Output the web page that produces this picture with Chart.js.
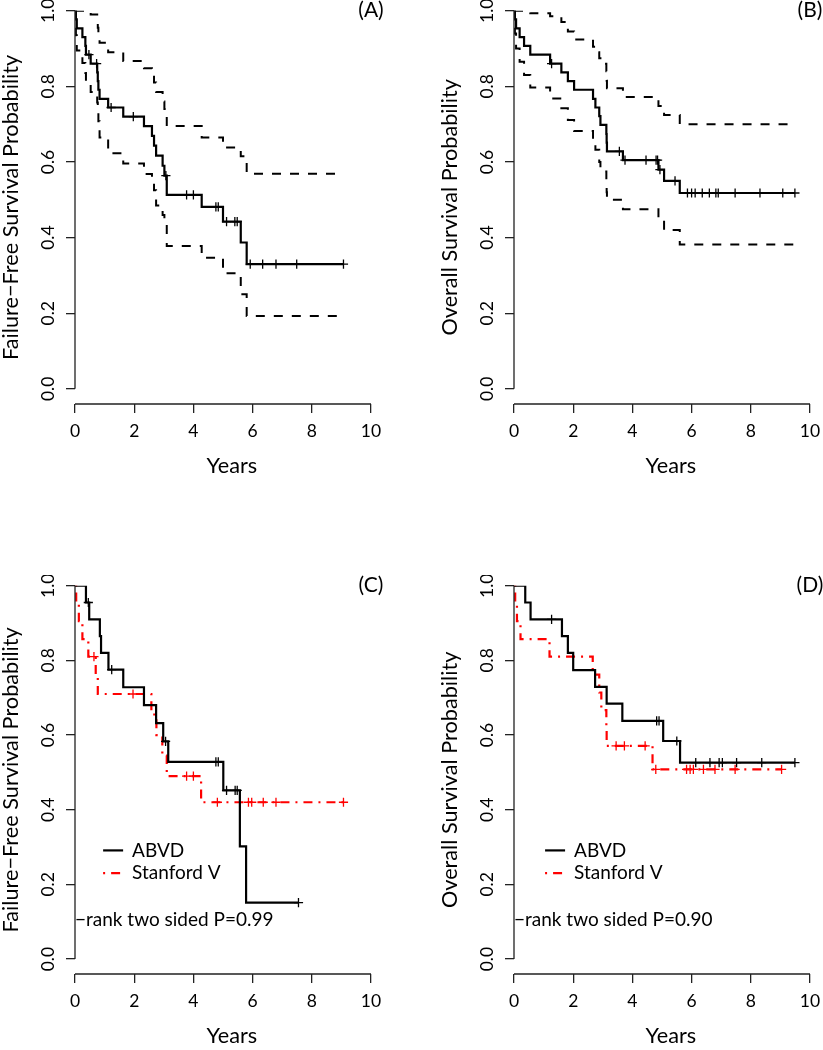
<!DOCTYPE html>
<html>
<head>
<meta charset="utf-8">
<script src="https://cdn.jsdelivr.net/npm/chart.js@4"></script>
<style>
  html, body { margin: 0; padding: 0; background: #fff; }
  #page { position: relative; width: 823px; height: 1050px; overflow: hidden; background: #fff; }
  #page canvas { position: absolute; }
</style>
</head>
<body>
<div id="page">
  <canvas id="panelA" width="420" height="484" style="left:0px;top:0px"></canvas>
  <canvas id="panelB" width="420" height="484" style="left:439px;top:0px"></canvas>
  <canvas id="panelC" width="420" height="479" style="left:0px;top:575px"></canvas>
  <canvas id="panelD" width="420" height="479" style="left:439px;top:575px"></canvas>
</div>
<script>
// ---- axis ticks ----
const xTicks = [0, 2, 4, 6, 8, 10];
const yTicks = [0, 0.2, 0.4, 0.6, 0.8, 1.0];

// ---- (A) failure-free survival, all patients ----
const ffsTime   = [0, 0.03, 0.06, 0.25, 0.35, 0.37, 0.53, 0.75, 0.77, 0.79, 0.83, 1.12, 1.63, 2.33, 2.60, 2.67, 2.74, 2.96, 3.02, 3.10, 4.28, 5.00, 5.60, 5.80];
const ffsSurv   = [1, 0.977, 0.953, 0.930, 0.907, 0.884, 0.860, 0.837, 0.814, 0.791, 0.767, 0.744, 0.720, 0.695, 0.669, 0.643, 0.617, 0.590, 0.564, 0.513, 0.481, 0.442, 0.387, 0.330];
const ffsUpper  = [1, 1, 1, 1, 1, 1, 0.990, 0.975, 0.955, 0.930, 0.915, 0.890, 0.867, 0.848, 0.830, 0.810, 0.785, 0.760, 0.740, 0.695, 0.665, 0.638, 0.615, 0.569];
const ffsLower  = [1, 0.935, 0.895, 0.862, 0.835, 0.808, 0.785, 0.757, 0.733, 0.708, 0.665, 0.623, 0.596, 0.568, 0.550, 0.525, 0.485, 0.460, 0.440, 0.378, 0.347, 0.306, 0.250, 0.193];
const ffsCensor = [0.47, 0.73, 1.22, 1.97, 3.07, 3.77, 4.00, 4.76, 4.84, 5.12, 5.40, 5.48, 5.92, 6.34, 6.79, 7.49, 9.07];

// ---- (B) overall survival, all patients ----
const osTime   = [0, 0.03, 0.07, 0.19, 0.34, 0.55, 1.22, 1.60, 1.82, 2.03, 2.67, 2.75, 2.88, 2.92, 3.12, 3.13, 3.14, 3.68, 4.88, 5.07, 5.60];
const osSurv   = [1, 0.977, 0.953, 0.930, 0.907, 0.884, 0.860, 0.837, 0.814, 0.791, 0.767, 0.744, 0.721, 0.698, 0.674, 0.651, 0.628, 0.605, 0.580, 0.550, 0.518];
const osUpper  = [1, 1, 1, 1, 1, 0.993, 0.985, 0.970, 0.945, 0.924, 0.905, 0.890, 0.874, 0.860, 0.840, 0.815, 0.795, 0.772, 0.748, 0.724, 0.700];
const osLower  = [1, 0.940, 0.900, 0.865, 0.830, 0.797, 0.768, 0.742, 0.711, 0.682, 0.655, 0.632, 0.600, 0.575, 0.545, 0.520, 0.500, 0.475, 0.449, 0.420, 0.382];
const osCensor = [1.27, 3.56, 3.75, 4.46, 4.80, 4.85, 4.93, 5.44, 5.86, 6.00, 6.12, 6.36, 6.60, 6.82, 6.90, 7.47, 8.31, 9.08, 9.49];

// ---- (C) failure-free survival by arm ----
const abvdFfsTime   = [0, 0.37, 0.48, 0.84, 0.88, 1.13, 1.63, 2.33, 2.74, 2.98, 3.15, 5.01, 5.57, 5.78];
const abvdFfsSurv   = [1, 0.955, 0.910, 0.865, 0.820, 0.775, 0.728, 0.680, 0.632, 0.583, 0.528, 0.452, 0.302, 0.151];
const abvdFfsCensor = [0.45, 1.24, 3.06, 4.76, 4.84, 5.12, 5.41, 5.48, 7.55];
const stanFfsTime   = [0, 0.04, 0.13, 0.25, 0.45, 0.70, 0.77, 2.58, 2.75, 2.95, 3.10, 4.26];
const stanFfsSurv   = [1, 0.952, 0.905, 0.857, 0.810, 0.760, 0.710, 0.655, 0.600, 0.545, 0.490, 0.420];
const stanFfsCensor = [0.64, 1.96, 3.77, 4.00, 4.81, 5.86, 5.97, 6.36, 6.79, 9.07];

// ---- (D) overall survival by arm ----
const abvdOsTime   = [0, 0.38, 0.56, 1.62, 1.82, 2.00, 2.74, 3.13, 3.66, 5.04, 5.61];
const abvdOsSurv   = [1, 0.955, 0.910, 0.865, 0.820, 0.774, 0.729, 0.684, 0.638, 0.584, 0.526];
const abvdOsCensor = [1.27, 4.82, 4.90, 5.50, 6.14, 6.62, 6.93, 7.04, 7.52, 8.37, 9.49];
const stanOsTime   = [0, 0.04, 0.10, 0.22, 1.20, 2.66, 2.88, 2.95, 3.12, 3.13, 4.68];
const stanOsSurv   = [1, 0.952, 0.905, 0.857, 0.810, 0.762, 0.714, 0.667, 0.619, 0.571, 0.508];
const stanOsCensor = [3.45, 3.73, 4.43, 4.79, 5.83, 5.95, 6.06, 6.40, 6.79, 7.47, 9.04];

const FONT = 'Lato, "Open Sans", "Liberation Sans", sans-serif';
const BLACK = '#000';
const RED = '#ff0000';
const AXIS = '#222';
const SOLID = [];
const DASHED = [9, 9];
const DOTDASH = [2, 6, 9, 6];

// survival level in force at time t (step lookup on the read values)
function levelAt(times, surv, t) {
  let s = surv[0];
  for (let i = 0; i < times.length; i++) if (times[i] <= t) s = surv[i];
  return s;
}

function stepData(times, surv, end) {
  const pts = times.map((t, i) => ({ x: t, y: surv[i] }));
  pts.push({ x: end, y: surv[surv.length - 1] });
  return pts;
}

function curveSets(times, surv, censor, color, dash) {
  const end = Math.max(...censor);
  return [
    { data: stepData(times, surv, end), borderColor: color, borderWidth: 2.2, borderDash: dash,
      stepped: 'before', pointRadius: 0, fill: false },
    { data: censor.map(t => ({ x: t, y: levelAt(times, surv, t) })), showLine: false,
      pointStyle: 'cross', pointRadius: 4.6, pointBorderWidth: 1.3, pointBorderColor: color,
      pointBackgroundColor: color }
  ];
}

function ciSet(times, vals, end) {
  return { data: stepData(times, vals, end), borderColor: BLACK, borderWidth: 2, borderDash: DASHED,
    stepped: 'before', pointRadius: 0, fill: false };
}

// R-style axes, panel tag, legend and p-value note
const rPanel = {
  id: 'rPanel',
  afterDraw(chart, args, opts) {
    const { ctx } = chart;
    const x = chart.scales.x, y = chart.scales.y;
    ctx.save();
    ctx.strokeStyle = AXIS;
    ctx.lineWidth = 1.3;
    ctx.setLineDash([]);
    ctx.beginPath();
    ctx.moveTo(x.getPixelForValue(0), y.getPixelForValue(0));
    ctx.lineTo(x.getPixelForValue(0), y.getPixelForValue(1));
    ctx.moveTo(x.getPixelForValue(0), y.bottom);
    ctx.lineTo(x.getPixelForValue(10), y.bottom);
    ctx.stroke();

    ctx.fillStyle = BLACK;
    ctx.font = '21px ' + FONT;
    ctx.textAlign = 'center';
    ctx.textBaseline = 'middle';
    ctx.fillText(opts.tag, x.getPixelForValue(10), y.getPixelForValue(1));

    if (opts.legend) {
      ctx.font = '19px ' + FONT;
      ctx.textAlign = 'left';
      opts.legend.forEach(item => {
        const lx = x.getPixelForValue(opts.legendX);
        const ly = y.getPixelForValue(item.y);
        ctx.strokeStyle = item.color;
        ctx.lineWidth = 2.2;
        ctx.setLineDash(item.dash);
        ctx.beginPath();
        ctx.moveTo(lx, ly);
        ctx.lineTo(lx + 20, ly);
        ctx.stroke();
        ctx.fillText(item.label, lx + 29, ly);
      });
    }
    if (opts.note) {
      ctx.font = '19px ' + FONT;
      ctx.textAlign = 'left';
      ctx.fillText(opts.note, x.getPixelForValue(0), y.getPixelForValue(0.104));
    }
    ctx.restore();
  }
};

function makePanel(id, yTitle, datasets, extra) {
  const tickFont = { family: FONT, size: 17.5 };
  const titleFont = { family: FONT, size: 21.7, lineHeight: 1.0 };
  new Chart(document.getElementById(id), {
    type: 'line',
    data: { datasets },
    options: {
      responsive: false,
      animation: false,
      devicePixelRatio: 1,
      events: [],
      layout: { padding: { top: 10.7, right: 31.24, bottom: 0, left: 0 } },
      plugins: { legend: { display: false }, tooltip: { enabled: false }, rPanel: extra },
      scales: {
        x: {
          type: 'linear', min: 0, max: 10.6,
          afterBuildTicks: s => { s.ticks = xTicks.map(v => ({ value: v })); },
          afterFit: s => { s.height = 80; s.paddingLeft = 0; s.paddingRight = 0; },
          grid: { display: true, drawOnChartArea: false, drawTicks: true, tickLength: 9, color: AXIS, lineWidth: 1.3 },
          border: { display: false },
          ticks: { font: tickFont, color: BLACK, padding: 8, maxRotation: 0, autoSkip: false, callback: v => String(v) },
          title: { display: true, text: 'Years', font: titleFont, color: BLACK, padding: { top: 0, bottom: 7 } }
        },
        y: {
          type: 'linear', min: -0.04, max: 1,
          afterBuildTicks: s => { s.ticks = yTicks.map(v => ({ value: v })); },
          afterFit: s => { s.width = 75; s.paddingTop = 0; s.paddingBottom = 0; },
          grid: { display: true, drawOnChartArea: false, drawTicks: true, tickLength: 9, color: AXIS, lineWidth: 1.3 },
          border: { display: false },
          ticks: { font: tickFont, color: BLACK, padding: 5.5, minRotation: 90, maxRotation: 90,
                   crossAlign: 'center', autoSkip: false, callback: v => v.toFixed(1) },
          title: { display: true, text: yTitle, font: titleFont, color: BLACK, padding: { top: 0.5, bottom: 0 } }
        }
      }
    },
    plugins: [rPanel]
  });
}

const ffsEnd = Math.max(...ffsCensor);
makePanel('panelA', 'Failure\u2212Free Survival Probability', [
  ...curveSets(ffsTime, ffsSurv, ffsCensor, BLACK, SOLID),
  ciSet(ffsTime, ffsUpper, ffsEnd),
  ciSet(ffsTime, ffsLower, ffsEnd)
], { tag: '(A)' });

const osEnd = Math.max(...osCensor);
makePanel('panelB', 'Overall Survival Probability', [
  ...curveSets(osTime, osSurv, osCensor, BLACK, SOLID),
  ciSet(osTime, osUpper, osEnd),
  ciSet(osTime, osLower, osEnd)
], { tag: '(B)' });

const armLegend = [
  { label: 'ABVD', color: BLACK, dash: SOLID, y: 0.291 },
  { label: 'Stanford V', color: RED, dash: DOTDASH, y: 0.23 }
];

makePanel('panelC', 'Failure\u2212Free Survival Probability', [
  ...curveSets(abvdFfsTime, abvdFfsSurv, abvdFfsCensor, BLACK, SOLID),
  ...curveSets(stanFfsTime, stanFfsSurv, stanFfsCensor, RED, DOTDASH)
], { tag: '(C)', legend: armLegend, legendX: 0.95, note: '\u2212rank two sided P=0.99' });

makePanel('panelD', 'Overall Survival Probability', [
  ...curveSets(abvdOsTime, abvdOsSurv, abvdOsCensor, BLACK, SOLID),
  ...curveSets(stanOsTime, stanOsSurv, stanOsCensor, RED, DOTDASH)
], { tag: '(D)', legend: armLegend, legendX: 1.05, note: '\u2212rank two sided P=0.90' });
</script>
</body>
</html>
